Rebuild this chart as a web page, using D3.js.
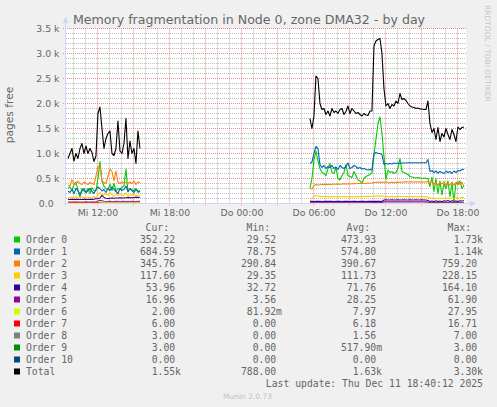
<!DOCTYPE html>
<html>
<head>
<meta charset="utf-8">
<title>Memory fragmentation in Node 0, zone DMA32 - by day</title>
<script src="https://cdn.jsdelivr.net/npm/d3@7"></script>
<style>
  html, body { margin: 0; padding: 0; background: #f0f0f0; }
  svg { display: block; }
  text { font-family: "DejaVu Sans", sans-serif; fill: #666; }
  text.mono { font-family: "DejaVu Sans Mono", monospace; white-space: pre; }
</style>
</head>
<body>
<div id="chart"></div>
<script>
'use strict';

// graph window (munin "day": 400 samples of 5 min, ending at last update)
var viewStart = Date.UTC(2025, 11, 10, 9, 20, 12);
var viewEnd = Date.UTC(2025, 11, 11, 18, 40, 12);

// the two stretches with data, one sample every 10 min
var wedStart = Date.UTC(2025, 11, 10, 9, 30);
var thuStart = Date.UTC(2025, 11, 11, 5, 40);
var sampleStep = 10 * 60 * 1000;

var seriesNames = ['Order 0', 'Order 1', 'Order 2', 'Order 3', 'Order 4', 'Order 5',
  'Order 6', 'Order 7', 'Order 8', 'Order 9', 'Order 10', 'Total'];
var seriesColors = ['#00CC00', '#0066B3', '#FF8000', '#FFCC00', '#330099', '#990099',
  '#CCFF00', '#FF0000', '#808080', '#008F00', '#00487D', '#000000'];

var order0Wed = [300,330,260,380,430,250,130,300,250,220, 300,200,320,260,250,500,840,450,350,300,
  280,380,260,400,250,300,280,320,350,690, 230,300,270,260,300,220,260];
var order0Thu = [300,500,870,1050,850,700,620,600,560,700, 800,620,600,720,500,470,560,620,780,560,
  540,520,640,560,470,450,400,500,540,560, 580,620,980,1280,1600,1730,1400,940,480,670,
  620,640,600,620,700,900,640,620,600,580, 540,530,520,510,520,510,500,510,500,500,
  340,530,240,500,200,450,170,400,300,450, 140,400,30,420,380,450,300,352];

var order1Wed = [250,220,280,200,300,260,180,250,300,220, 260,300,240,200,280,330,300,250,280,220,
  300,260,330,280,240,200,300,260,280,350, 240,300,260,220,280,250,230];
var order1Thu = [800,830,1000,1140,1100,780,720,760,700,740, 720,760,700,730,680,760,720,700,740,810,
  700,720,760,740,700,720,690,700,680,670, 680,670,1000,1020,1000,1000,980,780,800,790,
  800,790,810,800,810,800,810,810,810,815, 815,810,815,815,810,815,815,815,815,880,
  640,660,620,650,610,640,620,600,650,620, 640,600,650,620,660,650,680,685];

var order2Wed = [370,350,470,400,380,450,400,380,430,400, 380,420,400,380,550,740,759,450,420,400,
  550,690,640,450,650,420,400,430,410,420, 390,430,400,450,380,430,420];
var order2Thu = [300,291,360,380,370,375,380,385,380,385, 380,385,390,385,390,385,390,395,390,395,
  390,395,400,395,400,400,405,400,405,410, 405,410,420,425,430,425,430,420,440,420,
  410,430,415,425,420,430,425,430,435,430, 430,435,430,435,430,435,430,435,430,440,
  400,450,380,430,360,420,390,440,350,400, 370,430,360,410,440,380,420,346];

var order3Wed = [120,110,130,100,140,120,110,130,120,100, 130,110,120,140,110,180,220,150,180,200,
  160,228,170,140,190,160,200,150,170,210, 140,180,160,190,150,170,160];
var order3Thu = [90,100,150,160,150,140,145,140,140,138, 140,138,140,135,138,140,135,138,140,135,
  138,140,138,135,140,138,140,142,140,145, 142,145,150,148,150,148,150,140,138,140,
  138,140,138,140,138,142,140,138,140,138, 140,138,140,138,140,138,140,138,140,130,
  100,110,95,105,100,110,95,105,100,115, 95,105,100,120,110,100,125,118];

var order4Wed = [80,80,82,80,85,82,80,80,85,82, 80,85,82,85,95,100,110,164,120,105,
  100,105,110,105,110,110,115,110,112,115, 118,120,115,120,125,122,125];
var order4Thu = [42,44,40,42,44,42,40,42,44,42, 44,42,40,42,44,42,40,42,44,42,
  40,42,44,42,40,42,44,42,40,42, 44,42,45,42,44,42,40,70,72,70,
  70,72,70,70,72,70,70,72,70,70, 72,70,70,72,70,70,72,70,70,60,
  40,50,35,55,40,50,33,55,45,60, 40,55,45,50,38,55,50,54];

var order5Wed = [30,30,28,30,32,30,28,30,30,32, 30,30,32,30,35,50,61,55,45,40,
  42,45,40,38,42,45,40,42,45,40, 42,40,45,42,40,44,42];
var order5Thu = [16,15,16,15,16,16,15,16,15,16, 16,15,16,16,15,16,15,16,16,15,
  16,15,16,16,15,16,15,16,16,15, 16,16,18,20,22,20,18,35,36,35,
  36,35,36,35,36,35,36,35,36,35, 36,35,36,35,36,35,36,35,36,30,
  20,15,18,14,20,16,15,18,14,17, 15,18,16,14,17,16,15,17];

var order6Wed = [20,22,20,24,22,20,22,24,22,20, 22,24,22,20,22,25,27,28,26,25,
  24,25,26,24,25,26,25,24,26,25, 24,26,25,24,25,26,25];
var order6Thu = [0.2,0.1,0.5,0.1,0.2,0.1,0.3,0.1,0.2,0.1, 0.1,0.2,0.1,0.3,0.1,0.2,0.1,0.1,0.2,0.1,
  0.3,0.1,0.2,0.1,0.1,0.2,0.1,0.3,0.1,0.2, 0.1,0.1,0.5,1,0.5,0.2,0.1,0.2,0.1,0.1,
  0.2,0.1,0.3,0.1,0.2,0.1,0.1,0.2,0.1,0.3, 0.1,0.2,0.1,0.1,0.2,0.1,0.3,0.1,0.2,0.1,
  0.5,1,0.5,1,0.2,1,0.5,0.2,1,0.5, 0.2,1,0.5,1,0.5,1,2,2];

var order7Wed = [16,16,16,16,16,16,16,16,16,16, 16,16,16,16,16,12,8,6,6,6,
  6,6,6,6,6,6,6,6,6,6, 6,6,6,6,6,6,6];
var order7Thu = [4,4,3,4,4,5,4,4,3,4, 4,4,5,4,4,3,4,4,4,5,
  4,4,3,4,4,4,5,4,4,3, 4,4,5,6,5,4,4,4,3,4,
  4,5,4,4,4,3,4,4,5,4, 4,4,3,4,4,5,4,4,4,6,
  5,4,6,5,4,6,4,5,6,4, 5,6,4,6,5,6,6,6];

var order8Wed = [0,0,1,1,0,1,1,0,1,1, 2,1,1,0,1,2,3,2,1,1,
  1,2,1,1,2,1,1,2,1,1, 2,1,1,2,1,1,2];
var order8Thu = [2,2,1,2,2,1,2,2,2,1, 2,2,1,2,2,2,1,2,2,1,
  2,2,2,1,2,2,1,2,2,2, 1,2,3,5,7,4,2,2,1,2,
  2,1,2,2,1,2,2,1,2,2, 1,2,2,1,2,2,1,2,2,2,
  1,2,3,2,1,2,2,3,1,2, 2,1,2,3,2,2,3,3];

var order9Wed = [0,0,0,0,0,0,0,0,0,0, 0,0,0,0,0,0,0,0,0,0,
  0,0,0,0,0,0,0,0,0,0, 0,0,0,0,0,0,0];
var order9Thu = [0,0,0,0,0,0,0,0,0,0, 0,0,0,0,0,0,0,0,0,0,
  0,0,0,0,0,0,0,0,0,0, 0,0,0,0,0,0,0,0,0,0,
  0,0,0,0,0,0,0,0,0,0, 0,0,0,0,0,0,0,0,3,3,
  3,3,3,3,3,3,3,3,3,3, 3,3,3,3,3,3,3,3];

var order10Wed = [0,0,0,0,0,0,0,0,0,0, 0,0,0,0,0,0,0,0,0,0,
  0,0,0,0,0,0,0,0,0,0, 0,0,0,0,0,0,0];
var order10Thu = [0,0,0,0,0,0,0,0,0,0, 0,0,0,0,0,0,0,0,0,0,
  0,0,0,0,0,0,0,0,0,0, 0,0,0,0,0,0,0,0,0,0,
  0,0,0,0,0,0,0,0,0,0, 0,0,0,0,0,0,0,0,0,0,
  0,0,0,0,0,0,0,0,0,0, 0,0,0,0,0,0,0,0];

var totalWed = [900,1000,1100,850,1000,900,1100,1200,1000,1150, 1000,1100,1020,840,950,1800,1930,1500,1100,1300,
  1400,1450,1000,960,1100,1650,1050,1000,1200,1700, 900,1250,1000,1100,800,1450,1100];
var totalThu = [1700,1500,1750,2550,2500,2000,1880,1900,1780,1850, 1750,1900,1820,1850,1800,1880,1900,1780,1840,1950,
  1800,1900,1850,1800,1820,1780,1750,1800,1770,1760, 1850,1850,3150,3250,3280,3300,3000,2300,1950,2000,
  1900,1980,1950,2050,2000,2200,2080,2100,2060,2000, 1950,1930,1920,1900,1910,1890,1890,1880,1880,2050,
  1600,1420,1500,1280,1520,1240,1400,1330,1500,1380, 1280,1480,1380,1240,1530,1480,1520,1530];

// legend figures as printed by munin
var legendCur = [352.22, 684.59, 345.76, 117.60, 53.96, 16.96, 2.00, 6.00, 3.00, 3.00, 0, 1550];
var legendMin = [29.52, 78.75, 290.84, 29.35, 32.72, 3.56, 0.08192, 0, 0, 0, 0, 788];
var legendAvg = [473.93, 574.80, 390.67, 111.73, 71.76, 28.25, 7.97, 6.18, 1.56, 0.5179, 0, 1630];
var legendMax = [1730, 1140, 759.20, 228.15, 164.10, 61.90, 27.95, 16.71, 7.00, 3.00, 0, 3300];

var dayNames = ['So', 'Mo', 'Di', 'Mi', 'Do', 'Fr', 'Sa'];
var lastUpdate = 'Last update: Thu Dec 11 18:40:12 2025';

var seriesWed = [order0Wed, order1Wed, order2Wed, order3Wed, order4Wed, order5Wed,
  order6Wed, order7Wed, order8Wed, order9Wed, order10Wed, totalWed];
var seriesThu = [order0Thu, order1Thu, order2Thu, order3Thu, order4Thu, order5Thu,
  order6Thu, order7Thu, order8Thu, order9Thu, order10Thu, totalThu];

var W = 497, H = 407;
var plot = { left: 66, right: 466, top: 28.5, bottom: 203.5 };

function crisp(v) { return Math.floor(v) + 0.5; }

// rrdtool style "%6.2lf%s"
function siFormat(v) {
  if (v >= 1000) return (v / 1000).toFixed(2) + 'k';
  if (v > 0 && v < 1) return (v * 1000).toFixed(2) + 'm';
  return v.toFixed(2) + '\u00a0';
}

function toPoints(values, start) {
  return values.map(function(v, i) {
    return { t: new Date(start + i * sampleStep), v: v };
  });
}

var x = d3.scaleUtc()
  .domain([new Date(viewStart), new Date(viewEnd)])
  .range([plot.left, plot.right]);

var y = d3.scaleLinear()
  .domain([0, 3500])
  .range([plot.bottom, plot.top]);

var svg = d3.select('#chart').append('svg')
  .attr('width', W)
  .attr('height', H)
  .style('background', '#f0f0f0');

svg.append('rect')
  .attr('x', plot.left)
  .attr('y', plot.top)
  .attr('width', plot.right - plot.left)
  .attr('height', plot.bottom - plot.top)
  .attr('fill', '#ffffff');

// grid: minor every hour / 100, major every 3 hours / 500
var grid = svg.append('g')
  .attr('fill', 'none')
  .attr('stroke-width', 1)
  .attr('stroke-dasharray', '1,1');

var hourTicks = x.ticks(d3.utcHour.every(1));
var majorX = hourTicks.filter(function(d) { return d.getUTCHours() % 3 === 0; });
var minorX = hourTicks.filter(function(d) { return d.getUTCHours() % 3 !== 0; });
var majorY = y.ticks(7);
var minorY = y.ticks(35).filter(function(v) { return v % 500 !== 0; });

grid.selectAll('line.vminor')
  .data(minorX)
  .join('line')
    .attr('class', 'vminor')
    .attr('x1', function(d) { return crisp(x(d)); })
    .attr('x2', function(d) { return crisp(x(d)); })
    .attr('y1', plot.top)
    .attr('y2', plot.bottom)
    .attr('stroke', '#bdbdbd');

grid.selectAll('line.hminor')
  .data(minorY)
  .join('line')
    .attr('class', 'hminor')
    .attr('x1', plot.left)
    .attr('x2', plot.right)
    .attr('y1', function(d) { return y(d); })
    .attr('y2', function(d) { return y(d); })
    .attr('stroke', '#bdbdbd');

grid.selectAll('line.vmajor')
  .data(majorX)
  .join('line')
    .attr('class', 'vmajor')
    .attr('x1', function(d) { return crisp(x(d)); })
    .attr('x2', function(d) { return crisp(x(d)); })
    .attr('y1', plot.top)
    .attr('y2', plot.bottom + 3)
    .attr('stroke', '#e58e8e');

grid.selectAll('line.hmajor')
  .data(majorY)
  .join('line')
    .attr('class', 'hmajor')
    .attr('x1', plot.left - 3)
    .attr('x2', plot.right)
    .attr('y1', function(d) { return y(d); })
    .attr('y2', function(d) { return y(d); })
    .attr('stroke', '#e58e8e');

// data lines, Total drawn last
var line = d3.line()
  .x(function(d) { return x(d.t); })
  .y(function(d) { return y(d.v); });

var lines = svg.append('g')
  .attr('fill', 'none')
  .attr('stroke-width', 1.1)
  .attr('stroke-linejoin', 'round');

seriesNames.forEach(function(name, i) {
  [toPoints(seriesWed[i], wedStart), toPoints(seriesThu[i], thuStart)].forEach(function(pts) {
    lines.append('path')
      .datum(pts)
      .attr('stroke', seriesColors[i])
      .attr('d', line);
  });
});

// axes with arrows
var axisColor = '#CFD6F8';
var ax = svg.append('g');
ax.append('line')
  .attr('x1', plot.left - 0.5).attr('x2', plot.left - 0.5)
  .attr('y1', plot.bottom + 2).attr('y2', 22)
  .attr('stroke', axisColor);
ax.append('path')
  .attr('d', 'M' + (plot.left - 3.5) + ',23 L' + (plot.left + 2.5) + ',23 L' + (plot.left - 0.5) + ',17 Z')
  .attr('fill', axisColor);
ax.append('line')
  .attr('x1', plot.left - 3).attr('x2', plot.right + 5)
  .attr('y1', plot.bottom).attr('y2', plot.bottom)
  .attr('stroke', axisColor);
ax.append('path')
  .attr('d', 'M' + (plot.right + 4) + ',' + (plot.bottom - 3) + ' L' + (plot.right + 4) + ',' + (plot.bottom + 3) +
    ' L' + (plot.right + 10) + ',' + plot.bottom + ' Z')
  .attr('fill', axisColor);

// tick labels
var xAxis = d3.axisBottom(x)
  .tickValues(x.ticks(d3.utcHour.every(6)))
  .tickSize(0)
  .tickPadding(5.6)
  .offset(0)
  .tickFormat(function(d) { return dayNames[d.getUTCDay()] + ' ' + d3.utcFormat('%H:%M')(d); });

var gx = svg.append('g')
  .attr('transform', 'translate(0,' + plot.bottom + ')')
  .call(xAxis);
gx.select('.domain').remove();
gx.attr('font-size', null).attr('font-family', null);
gx.selectAll('text').attr('fill', null).style('font-size', '9.33px');

var yAxis = d3.axisLeft(y)
  .tickValues(majorY)
  .tickSize(0)
  .tickPadding(0)
  .offset(0)
  .tickFormat(function(v) { return v === 0 ? '0.0\u00a0\u00a0' : (v / 1000).toFixed(1) + ' k'; });

var gy = svg.append('g')
  .attr('transform', 'translate(59.5,0)')
  .call(yAxis);
gy.select('.domain').remove();
gy.attr('font-size', null).attr('font-family', null);
gy.selectAll('text').attr('fill', null).style('font-size', '9.33px').style('white-space', 'pre');

// titles
svg.append('text')
  .attr('x', 249)
  .attr('y', 24)
  .attr('text-anchor', 'middle')
  .style('font-size', '12.6px')
  .text('Memory fragmentation in Node 0, zone DMA32 - by day');

svg.append('text')
  .attr('transform', 'translate(13,115) rotate(-90)')
  .attr('text-anchor', 'middle')
  .style('font-size', '10.7px')
  .text('pages free');

svg.append('text')
  .attr('transform', 'translate(484.5,5) rotate(90)')
  .style('font-size', '7.5px')
  .style('fill', '#c6c6c6')
  .text('RRDTOOL / TOBI OETIKER');

// legend
var legend = svg.append('g');
var colRight = [181, 282, 382, 483];
var headers = ['Cur:', 'Min:', 'Avg:', 'Max:'];
var columns = [legendCur, legendMin, legendAvg, legendMax];

legend.selectAll('text.head')
  .data(headers)
  .join('text')
    .attr('class', 'mono head')
    .attr('x', function(d, i) { return colRight[i] - 12; })
    .attr('y', 231.3)
    .attr('text-anchor', 'end')
    .style('font-size', '9.75px')
    .text(function(d) { return d; });

var rows = legend.selectAll('g.row')
  .data(seriesNames)
  .join('g')
    .attr('class', 'row')
    .attr('transform', function(d, i) { return 'translate(0,' + (243 + i * 12) + ')'; });

rows.append('rect')
  .attr('x', 14)
  .attr('y', -6.5)
  .attr('width', 6)
  .attr('height', 6)
  .attr('fill', function(d, i) { return seriesColors[i]; });

rows.append('text')
  .attr('class', 'mono')
  .attr('x', 26)
  .style('font-size', '9.75px')
  .text(function(d) { return d; });

columns.forEach(function(col, c) {
  rows.append('text')
    .attr('class', 'mono')
    .attr('x', colRight[c])
    .attr('text-anchor', 'end')
    .style('font-size', '9.75px')
    .text(function(d, i) { return siFormat(col[i]); });
});

svg.append('text')
  .attr('class', 'mono')
  .attr('x', 483)
  .attr('y', 387.3)
  .attr('text-anchor', 'end')
  .style('font-size', '9.75px')
  .text(lastUpdate);

svg.append('text')
  .attr('x', 247.5)
  .attr('y', 398.7)
  .attr('text-anchor', 'middle')
  .style('font-size', '7.5px')
  .style('fill', '#c0c0c0')
  .text('Munin 2.0.73');
</script>
</body>
</html>
